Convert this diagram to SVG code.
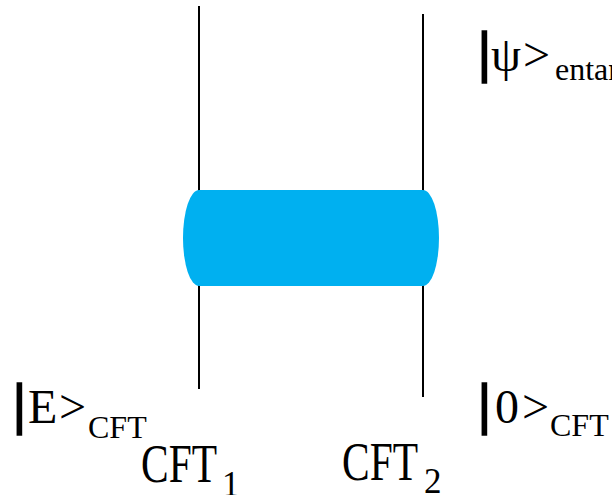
<svg xmlns="http://www.w3.org/2000/svg" width="612" height="495" viewBox="0 0 612 495">
  <style>
    .wire { stroke: #000; stroke-width: 2; fill: none; }
    .lbl { font-family: "Liberation Serif", "DejaVu Serif", serif; fill: #000; }
    .ket { font-size: 48px; }
    .sub { font-size: 32px; }
    .idx { font-size: 35px; }
    .big { font-size: 54px; }
    .bar { font-size: 58px; font-weight: bold; stroke: #000; stroke-width: 1.6; }
  </style>
  <rect width="612" height="495" fill="#fff"/>
  <g id="connectors">
    <line class="wire" x1="199" y1="6" x2="199" y2="389"/>
    <line class="wire" x1="423" y1="14" x2="423" y2="397"/>
  </g>
  <g id="entangler">
    <path d="M199,190 H423 A16,48 0 0 1 423,286 H199 A16,48 0 0 1 199,190 Z" fill="#00B0F0"/>
  </g>
  <g id="state-entangled">
    <text class="lbl ket" y="71"><tspan class="bar" x="478">|</tspan><tspan x="491">ψ</tspan><tspan x="523">&gt;</tspan></text>
    <text class="lbl sub" x="555" y="80">entangled</text>
  </g>
  <g id="state-E">
    <text class="lbl ket" y="423"><tspan class="bar" x="13">|</tspan><tspan x="28">E</tspan><tspan x="59">&gt;</tspan></text>
    <text class="lbl sub" x="88" y="438">CFT</text>
  </g>
  <g id="state-0">
    <text class="lbl ket" y="423"><tspan class="bar" x="478">|</tspan><tspan x="495">0</tspan><tspan x="522">&gt;</tspan></text>
    <text class="lbl sub" x="550" y="436">CFT</text>
  </g>
  <g id="cft1">
    <text class="lbl big" x="141" y="482" textLength="76" lengthAdjust="spacingAndGlyphs">CFT</text>
    <text class="lbl idx" x="222" y="496">1</text>
  </g>
  <g id="cft2">
    <text class="lbl big" x="342" y="480" textLength="76" lengthAdjust="spacingAndGlyphs">CFT</text>
    <text class="lbl idx" x="424" y="493">2</text>
  </g>
</svg>
